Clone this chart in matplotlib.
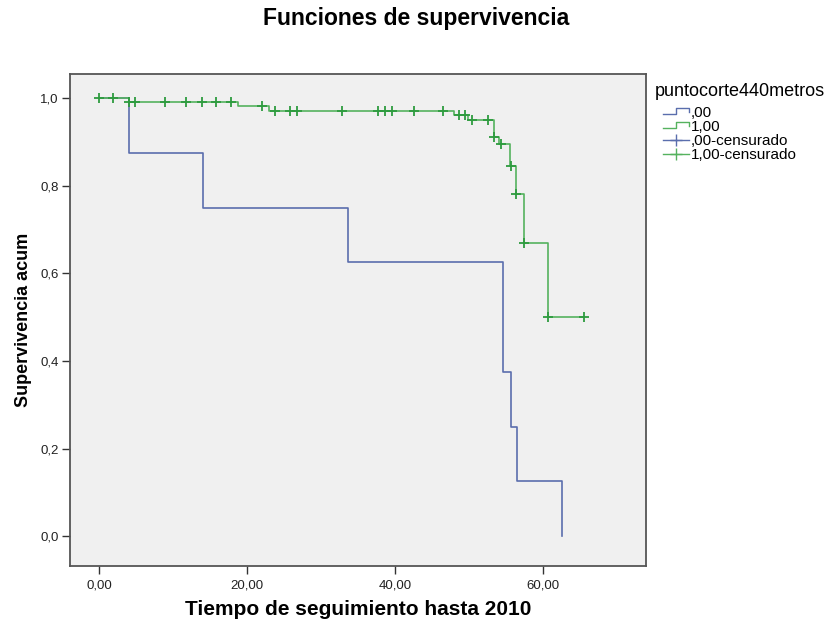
import numpy as np
import matplotlib.pyplot as plt
from matplotlib.lines import Line2D
from matplotlib.legend_handler import HandlerBase
from matplotlib.ticker import FuncFormatter

plt.rcParams['font.family'] = ['Liberation Sans', 'DejaVu Sans']

# grupo ,00 : tiempos de evento y supervivencia acumulada (sin censurados)
t_00 = [0.0, 4.0, 14.0, 33.7, 54.6, 55.6, 56.5, 62.6]
s_00 = [1.0, 0.875, 0.75, 0.625, 0.375, 0.25, 0.125, 0.0]
c_00 = []

# grupo 1,00
t_100 = [0.0, 4.0, 18.8, 22.9, 48.0, 49.9, 53.3, 54.0, 55.5, 56.4, 57.4, 60.6]
s_100 = [1.0, 0.992, 0.982, 0.971, 0.961, 0.950, 0.912, 0.896, 0.846, 0.782, 0.669, 0.501]
c_100 = [0.0, 1.9, 4.1, 4.9, 8.9, 11.8, 13.9, 15.8, 17.8, 22.0, 23.8, 25.8, 26.7,
         32.8, 37.7, 38.6, 39.6, 42.6, 46.5, 48.6, 49.5, 50.4, 52.6, 53.4, 54.3,
         55.6, 56.4, 57.4, 60.6, 65.5]

grupo_labels = [',00', '1,00', ',00-censurado', '1,00-censurado']
col_00 = '#5A6EAD'
col_100 = '#55B25E'
col_100_cens = '#2E9B3F'


def surv_at(t_ev, s_ev, t):
    idx = np.searchsorted(t_ev, t, side='right') - 1
    return np.asarray(s_ev)[idx]


class StepHandler(HandlerBase):
    def create_artists(self, legend, orig_handle, xdescent, ydescent,
                       width, height, fontsize, trans):
        x0 = -xdescent
        y0 = -ydescent
        xs = [x0, x0 + width * 0.5, x0 + width * 0.5, x0 + width, x0 + width]
        ys = [y0 + height * 0.3, y0 + height * 0.3, y0 + height * 0.85,
              y0 + height * 0.85, y0 + height * 0.45]
        ln = Line2D(xs, ys, color=orig_handle.get_color(), lw=1.0)
        ln.set_transform(trans)
        return [ln]


fig = plt.figure(figsize=(8.33, 6.28), dpi=100)
ax = fig.add_axes([70 / 833, 1 - 566 / 628, 576 / 833, 492 / 628])
ax.set_facecolor('#F0F0F0')

# curvas de supervivencia
ax.step(t_00, s_00, where='post', color=col_00, lw=1.2)
g_t = t_100 + [c_100[-1]]
g_s = s_100 + [s_100[-1]]
ax.step(g_t, g_s, where='post', color=col_100, lw=1.2)

# censurados
if c_00:
    ax.plot(c_00, surv_at(t_00, s_00, c_00), '+', color=col_00, ms=7, mew=1.2)
ax.plot(c_100, surv_at(t_100, s_100, c_100), '+', color=col_100_cens, ms=7, mew=1.3)

ax.set_xlim(-3.92, 73.9)
ax.set_ylim(-0.068, 1.055)
ax.set_xticks([0, 20, 40, 60])
ax.set_yticks([0, 0.2, 0.4, 0.6, 0.8, 1.0])
ax.xaxis.set_major_formatter(FuncFormatter(lambda v, p: f'{v:.2f}'.replace('.', ',')))
ax.yaxis.set_major_formatter(FuncFormatter(lambda v, p: f'{v:.1f}'.replace('.', ',')))
ax.tick_params(direction='out', length=6, width=1, color='#333333',
               labelsize=9.5, labelcolor='#222222')
ax.tick_params(axis='x', pad=4)
ax.tick_params(axis='y', pad=2)
for sp in ax.spines.values():
    sp.set_color('#555555')
    sp.set_linewidth(1.3)

ax.set_xlabel('Tiempo de seguimiento hasta 2010', fontsize=15, fontweight='bold', labelpad=6)
ax.set_ylabel('Supervivencia acum', fontsize=13, fontweight='bold', labelpad=6)
fig.text(416 / 833, 1 - 19 / 628, 'Funciones de supervivencia', ha='center', va='center',
         fontsize=16.5, fontweight='bold')

# leyenda
fig.text(655 / 833, 1 - 92 / 628, 'puntocorte440metros', ha='left', va='center',
         fontsize=13)
handles = [Line2D([], [], color=col_00), Line2D([], [], color=col_100),
           Line2D([], [], color=col_00, marker='+', ms=9, mew=1.0, lw=1.0),
           Line2D([], [], color=col_100, marker='+', ms=9, mew=1.0, lw=1.0)]
leg = ax.legend(handles, grupo_labels, loc='upper left',
                bbox_to_anchor=(663 / 833, 1 - 106 / 628), bbox_transform=fig.transFigure,
                frameon=False, fontsize=11, handlelength=1.7,
                handletextpad=0.1, labelspacing=0.0, borderaxespad=0.0, borderpad=0.0,
                handler_map={handles[0]: StepHandler(), handles[1]: StepHandler()})

fig.savefig('out.png', dpi=100, facecolor='white')
